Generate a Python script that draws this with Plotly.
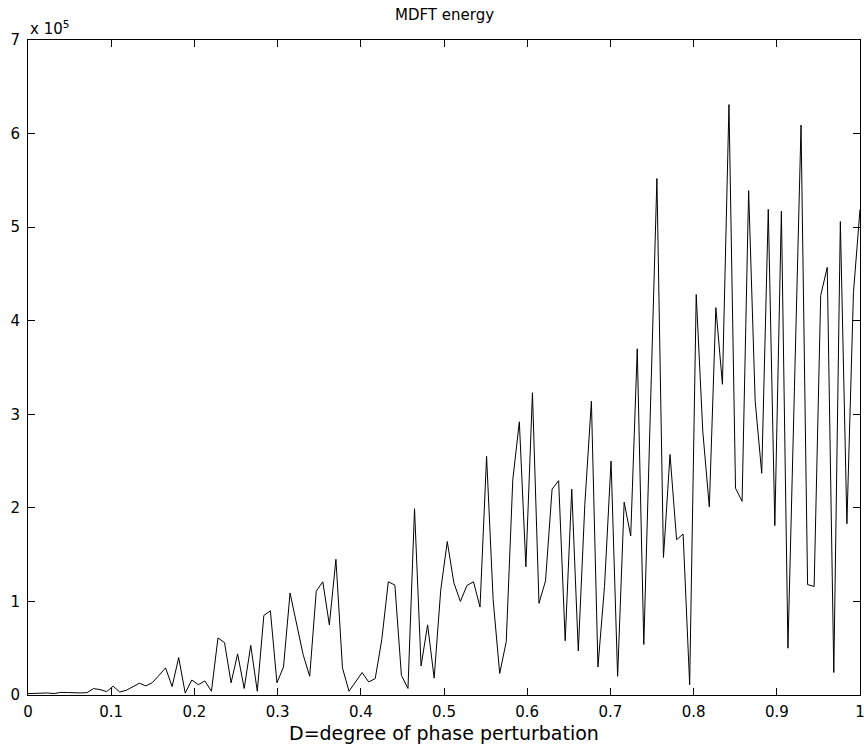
import numpy as np
import plotly.graph_objects as go

# D = degree of phase perturbation, 128 samples over [0, 1]
n_points = 128
degree = np.linspace(0, 1, n_points)

# MDFT energy in units of 1e5
mdft_energy_e5 = [
    0.015, 0.018, 0.020, 0.022, 0.015, 0.028, 0.026, 0.020, 0.022, 0.025,
    0.068, 0.058, 0.036, 0.094, 0.032, 0.050, 0.090, 0.126, 0.097, 0.133,
    0.21, 0.29, 0.09, 0.40, 0.02, 0.16, 0.11, 0.15, 0.04, 0.61,
    0.56, 0.13, 0.44, 0.07, 0.53, 0.04, 0.85, 0.90, 0.13, 0.30,
    1.09, 0.77, 0.43, 0.20, 1.11, 1.21, 0.75, 1.45, 0.29, 0.04,
    0.14, 0.24, 0.14, 0.175, 0.59, 1.21, 1.175, 0.21, 0.07, 1.99,
    0.31, 0.75, 0.18, 1.12, 1.64, 1.20, 1.00, 1.17, 1.21, 0.94,
    2.55, 1.02, 0.23, 0.57, 2.30, 2.92, 1.37, 3.23, 0.98, 1.22,
    2.20, 2.29, 0.58, 2.20, 0.47, 2.04, 3.14, 0.30, 1.16, 2.50,
    0.20, 2.06, 1.70, 3.70, 0.54, 3.00, 5.52, 1.47, 2.57, 1.66,
    1.72, 0.11, 4.28, 2.82, 2.01, 4.14, 3.32, 6.31, 2.21, 2.07,
    5.39, 3.14, 2.37, 5.19, 1.81, 5.17, 0.50, 3.30, 6.09, 1.18,
    1.16, 4.27, 4.57, 0.24, 5.06, 1.83, 4.30, 5.19,
]

x_ticks = [0, 0.1, 0.2, 0.3, 0.4, 0.5, 0.6, 0.7, 0.8, 0.9, 1]
x_tick_labels = ["0", "0.1", "0.2", "0.3", "0.4", "0.5", "0.6", "0.7", "0.8", "0.9", "1"]
y_ticks = [0, 1, 2, 3, 4, 5, 6, 7]
y_tick_labels = ["0", "1", "2", "3", "4", "5", "6", "7"]

title_text = "MDFT energy"
x_label = "D=degree of phase perturbation"
exp_label = "x 10<sup>5</sup>"

font_family = "DejaVu Sans, Liberation Sans, Arial, sans-serif"

fig = go.Figure()
fig.add_trace(go.Scatter(
    x=degree, y=mdft_energy_e5, mode="lines",
    line=dict(color="black", width=1),
    hoverinfo="skip", showlegend=False,
))

axis_common = dict(
    showline=True, linecolor="black", linewidth=1, mirror="allticks",
    ticks="inside", ticklen=7, tickwidth=1, tickcolor="black",
    showgrid=False, zeroline=False, automargin=False,
    tickfont=dict(family=font_family, size=15, color="black"),
)

fig.update_layout(
    width=864, height=746,
    margin=dict(l=28, r=4, t=40, b=51, autoexpand=False),
    paper_bgcolor="white", plot_bgcolor="white",
    font=dict(family=font_family, color="black"),
    xaxis=dict(range=[0, 1], tickvals=x_ticks, ticktext=x_tick_labels,
               ticklabeloverflow="allow", ticklabelstandoff=3, **axis_common),
    yaxis=dict(range=[0, 7], tickvals=y_ticks, ticktext=y_tick_labels,
               ticklabelstandoff=4, **axis_common),
    annotations=[
        dict(text=title_text, xref="paper", yref="paper", x=0.5, y=1.038,
             xanchor="center", yanchor="middle", showarrow=False,
             font=dict(family=font_family, size=15, color="black")),
        dict(text=x_label, xref="paper", yref="paper", x=0.5, y=-0.058,
             xanchor="center", yanchor="middle", showarrow=False,
             font=dict(family=font_family, size=19, color="black")),
        dict(text=exp_label, xref="paper", yref="paper", x=0.0, y=1.0,
             xanchor="left", yanchor="bottom", showarrow=False,
             font=dict(family=font_family, size=15, color="black")),
    ],
)

fig.write_html("out.html")
